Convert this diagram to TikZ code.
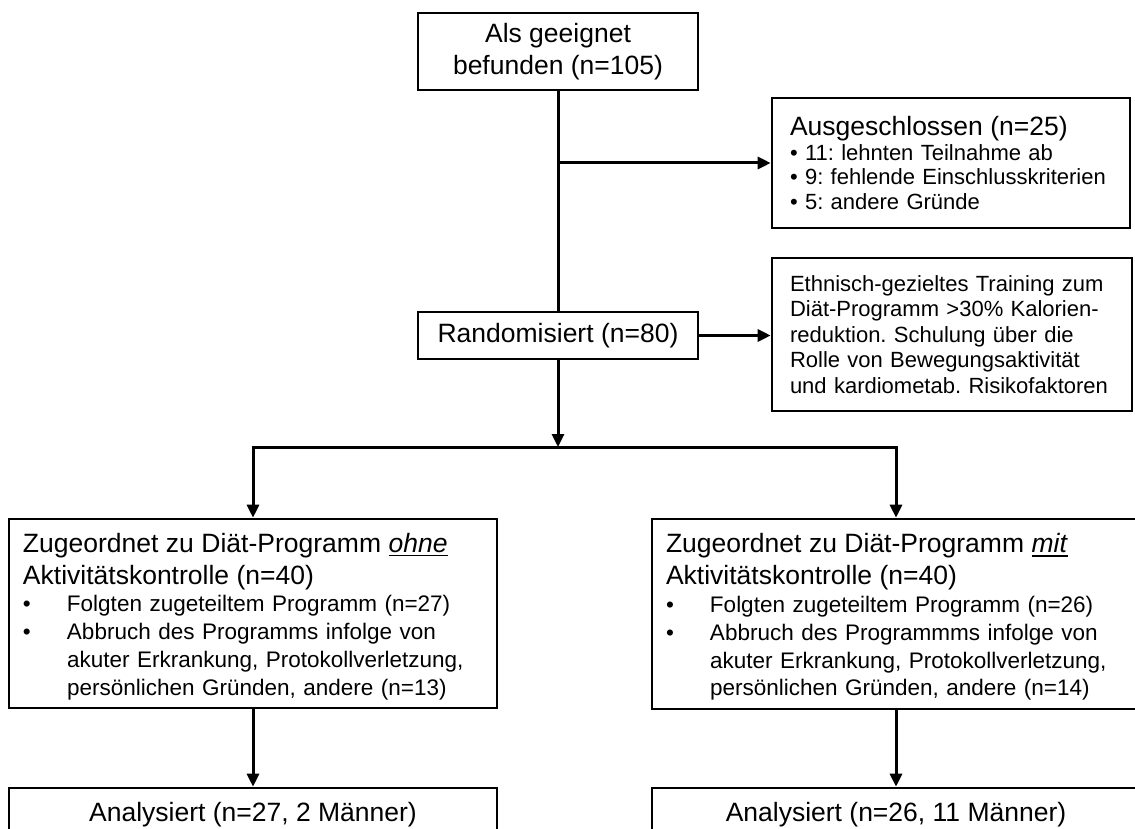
\documentclass[tikz,border=0pt]{standalone}
\usepackage{fontspec}
\setmainfont{Liberation Sans}
\newfontfamily\widesp[WordSpace=1.55]{Liberation Sans}
\usetikzlibrary{arrows.meta}
\setlength{\parindent}{0pt}
\frenchspacing
\newcommand{\fsA}{\fontsize{26.5pt}{32pt}\selectfont}
\newcommand{\fsB}{\widesp\fontsize{22.5pt}{27.8pt}\selectfont}
\newcommand{\fsC}{\widesp\fontsize{22pt}{24.5pt}\selectfont}
\newcommand{\fsD}{\widesp\fontsize{22pt}{25.5pt}\selectfont}
\newcommand{\bitem}[1]{\par\hangindent=44pt\hangafter=1\noindent\makebox[44pt][l]{•}#1}
\newsavebox{\ulxbox}
\newcommand{\ulx}[1]{\leavevmode\sbox{\ulxbox}{#1}\rlap{\rule[-4pt]{\wd\ulxbox}{1.5pt}}\usebox{\ulxbox}}
\tikzset{
  box/.style={draw=black, line width=2.6pt, fill=white, rectangle, inner sep=0pt, text=black},
  conn/.style={line width=3pt, draw=black, line join=miter},
  arr/.style={conn, -{Triangle[length=13pt,width=12pt]}},
}
\begin{document}
\begin{tikzpicture}[x=1pt,y=-1pt]
\useasboundingbox (0,0) rectangle (1135,829);

\node[box, minimum width=280pt, minimum height=77pt, align=center, font=\fsA] (elig) at (558,51.5) {Als geeignet\\befunden (n=105)};

\node[box, minimum width=358pt, minimum height=130pt, text width=322pt, align=left, font=\fsC] (excl) at (951,163)
  {{\fsA Ausgeschlossen (n=25)\par}\fsC
   \mbox{• 11: lehnten Teilnahme ab}\par
   \mbox{• 9: fehlende Einschlusskriterien}\par
   \mbox{• 5: andere Gründe}\par};

\node[box, minimum width=280pt, minimum height=47pt, font=\fsA] (rand) at (558,335.5) {Randomisiert (n=80)};

\node[box, minimum width=360pt, minimum height=153pt, text width=324pt, align=left, font=\fsD] (eth) at (952,334.5)
  {\fsD\mbox{Ethnisch-gezieltes Training zum}\par
   \mbox{Diät-Programm >30\% Kalorien-}\par
   \mbox{reduktion. Schulung über die}\par
   \mbox{Rolle von Bewegungsaktivität}\par
   \mbox{und kardiometab. Risikofaktoren}\par};

\node[box, minimum width=488pt, minimum height=189pt, text width=460pt, align=left, font=\fsB] (ohne) at (253,613.5)
  {{\fsA Zugeordnet zu Diät-Programm \ulx{\textit{ohne}}\par Aktivitätskontrolle (n=40)\par}\fsB
   \bitem{Folgten zugeteiltem Programm (n=27)}
   \bitem{Abbruch des Programms infolge von\newline akuter Erkrankung, Protokollverletzung,\newline persönlichen Gründen, andere (n=13)}\par\vspace*{-6pt}};

\node[box, minimum width=488pt, minimum height=190pt, text width=460pt, align=left, font=\fsB] (mit) at (896,614)
  {{\fsA Zugeordnet zu Diät-Programm \ulx{\textit{mit}}\par Aktivitätskontrolle (n=40)\par}\fsB
   \bitem{Folgten zugeteiltem Programm (n=26)}
   \bitem{Abbruch des Programmms infolge von\newline akuter Erkrankung, Protokollverletzung,\newline persönlichen Gründen, andere (n=14)}\par\vspace*{-6pt}};

\node[box, minimum width=488pt, minimum height=54pt, font=\fsA] (anl1) at (253,815) {Analysiert (n=27, 2 Männer)};
\node[box, minimum width=488pt, minimum height=54pt, font=\fsA] (anl2) at (896,815) {Analysiert (n=26, 11 Männer)};

\coordinate (split) at (558,447);

\draw[conn] (elig.south) -- (rand.north);
\draw[arr] (elig.south |- excl.west) -- (excl.west);
\draw[arr] (rand.east) -- (rand.east -| eth.west);
\draw[arr] (rand.south) -- (split);
\draw[arr] (split) -| (ohne.north);
\draw[arr] (split) -| (mit.north);
\draw[arr] (ohne.south) -- (anl1.north);
\draw[arr] (mit.south) -- (anl2.north);
\end{tikzpicture}
\end{document}
